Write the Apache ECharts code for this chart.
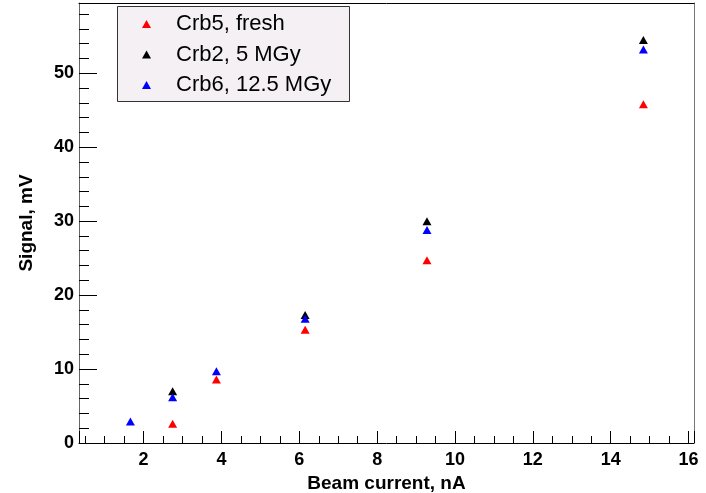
<!DOCTYPE html>
<html>
<head>
<meta charset="utf-8">
<script src="https://cdn.jsdelivr.net/npm/echarts@6/dist/echarts.min.js"></script>
<style>
  html, body { margin: 0; padding: 0; background: #ffffff; }
  #chart { width: 706px; height: 493px; }
</style>
</head>
<body>
<div id="chart"></div>
<script>
// Beam current (nA) at which the signals were recorded
const current = [1.66, 2.745, 3.87, 6.15, 9.28, 14.84];
// Signal (mV) per crystal; null where no point was taken
const crb5Fresh = [null, 2.6, 8.6, 15.3, 24.7, 45.8];
const crb2_5MGy = [null, 7.0, null, 17.3, 30.0, 54.5];
const crb6_12_5MGy = [2.9, 6.2, 9.7, 16.8, 28.8, 53.2];
const seriesNames = ['Crb5, fresh', 'Crb2, 5 MGy', 'Crb6, 12.5 MGy'];
const xTitle = 'Beam current, nA';
const yTitle = 'Signal, mV';

function pairs(ys) {
  const out = [];
  ys.forEach(function (y, i) { if (y !== null) out.push([current[i], y]); });
  return out;
}

const FONT = '"Liberation Sans", Arial, Helvetica, sans-serif';
const chart = echarts.init(document.getElementById('chart'), null, { renderer: 'canvas' });

function scatter(name, ys, color) {
  return {
    name: name,
    type: 'scatter',
    symbol: 'triangle',
    symbolSize: [9, 8],
    itemStyle: { color: color, opacity: 1 },
    emphasis: { disabled: true },
    data: pairs(ys),
    z: 3
  };
}

chart.setOption({
  animation: false,
  backgroundColor: '#ffffff',
  grid: { left: 79, right: 12, top: 3, bottom: 50, containLabel: false, outerBoundsMode: 'none' },
  xAxis: [{
    type: 'value',
    position: 'bottom',
    min: 0.34,
    max: 16.14,
    splitNumber: 8,
    minInterval: 2,
    maxInterval: 2,
    name: xTitle,
    nameLocation: 'middle',
    nameGap: 27,
    nameTextStyle: { fontFamily: FONT, fontWeight: 'bold', fontSize: 19, color: '#000' },
    axisLine: { show: true, onZero: false, lineStyle: { color: '#000', width: 1 } },
    axisTick: { show: true, inside: true, length: 12, lineStyle: { color: '#000' } },
    minorTick: { show: true, splitNumber: 4, length: 7, lineStyle: { color: '#000' } },
    axisLabel: {
      show: true, margin: 8, showMinLabel: false, showMaxLabel: false,
      fontFamily: FONT, fontWeight: 'bold', fontSize: 18, color: '#000'
    },
    splitLine: { show: false }
  }, {
    type: 'value',
    position: 'top',
    min: 0.34,
    max: 16.14,
    axisLine: { show: true, onZero: false, lineStyle: { color: '#000', width: 1 } },
    axisTick: { show: false },
    axisLabel: { show: false },
    splitLine: { show: false }
  }],
  yAxis: [{
    type: 'value',
    position: 'left',
    min: 0,
    max: 59.5,
    splitNumber: 6,
    minInterval: 10,
    maxInterval: 10,
    name: yTitle,
    nameLocation: 'middle',
    nameGap: 43,
    nameTextStyle: { fontFamily: FONT, fontWeight: 'bold', fontSize: 19, color: '#000' },
    axisLine: { show: true, onZero: false, lineStyle: { color: '#666', width: 1 } },
    axisTick: { show: true, inside: true, length: 18, lineStyle: { color: '#000' } },
    minorTick: { show: true, splitNumber: 5, length: 10, lineStyle: { color: '#000' } },
    axisLabel: {
      show: true, margin: 5, showMaxLabel: false,
      fontFamily: FONT, fontWeight: 'bold', fontSize: 18, color: '#000'
    },
    splitLine: { show: false }
  }, {
    type: 'value',
    position: 'right',
    min: 0,
    max: 59.5,
    axisLine: { show: true, onZero: false, lineStyle: { color: '#777', width: 1 } },
    axisTick: { show: false },
    axisLabel: { show: false },
    splitLine: { show: false }
  }],
  legend: {
    show: true,
    orient: 'vertical',
    left: 142,
    top: 13,
    padding: 0,
    itemWidth: 9,
    itemHeight: 8,
    itemGap: 8.5,
    icon: 'triangle',
    selectedMode: false,
    data: seriesNames,
    textStyle: {
      fontFamily: FONT, fontSize: 22, color: '#000',
      lineHeight: 22, padding: [0, 0, 0, 20]
    },
    z: 10
  },
  graphic: [{
    type: 'rect',
    left: 117,
    top: 6,
    shape: { width: 232, height: 95 },
    style: { fill: '#f4f0f4', stroke: '#333', lineWidth: 1 },
    z: 5,
    silent: true
  }],
  series: [
    scatter(seriesNames[0], crb5Fresh, '#ff0000'),
    scatter(seriesNames[1], crb2_5MGy, '#000000'),
    scatter(seriesNames[2], crb6_12_5MGy, '#0000ff')
  ]
});
</script>
</body>
</html>
